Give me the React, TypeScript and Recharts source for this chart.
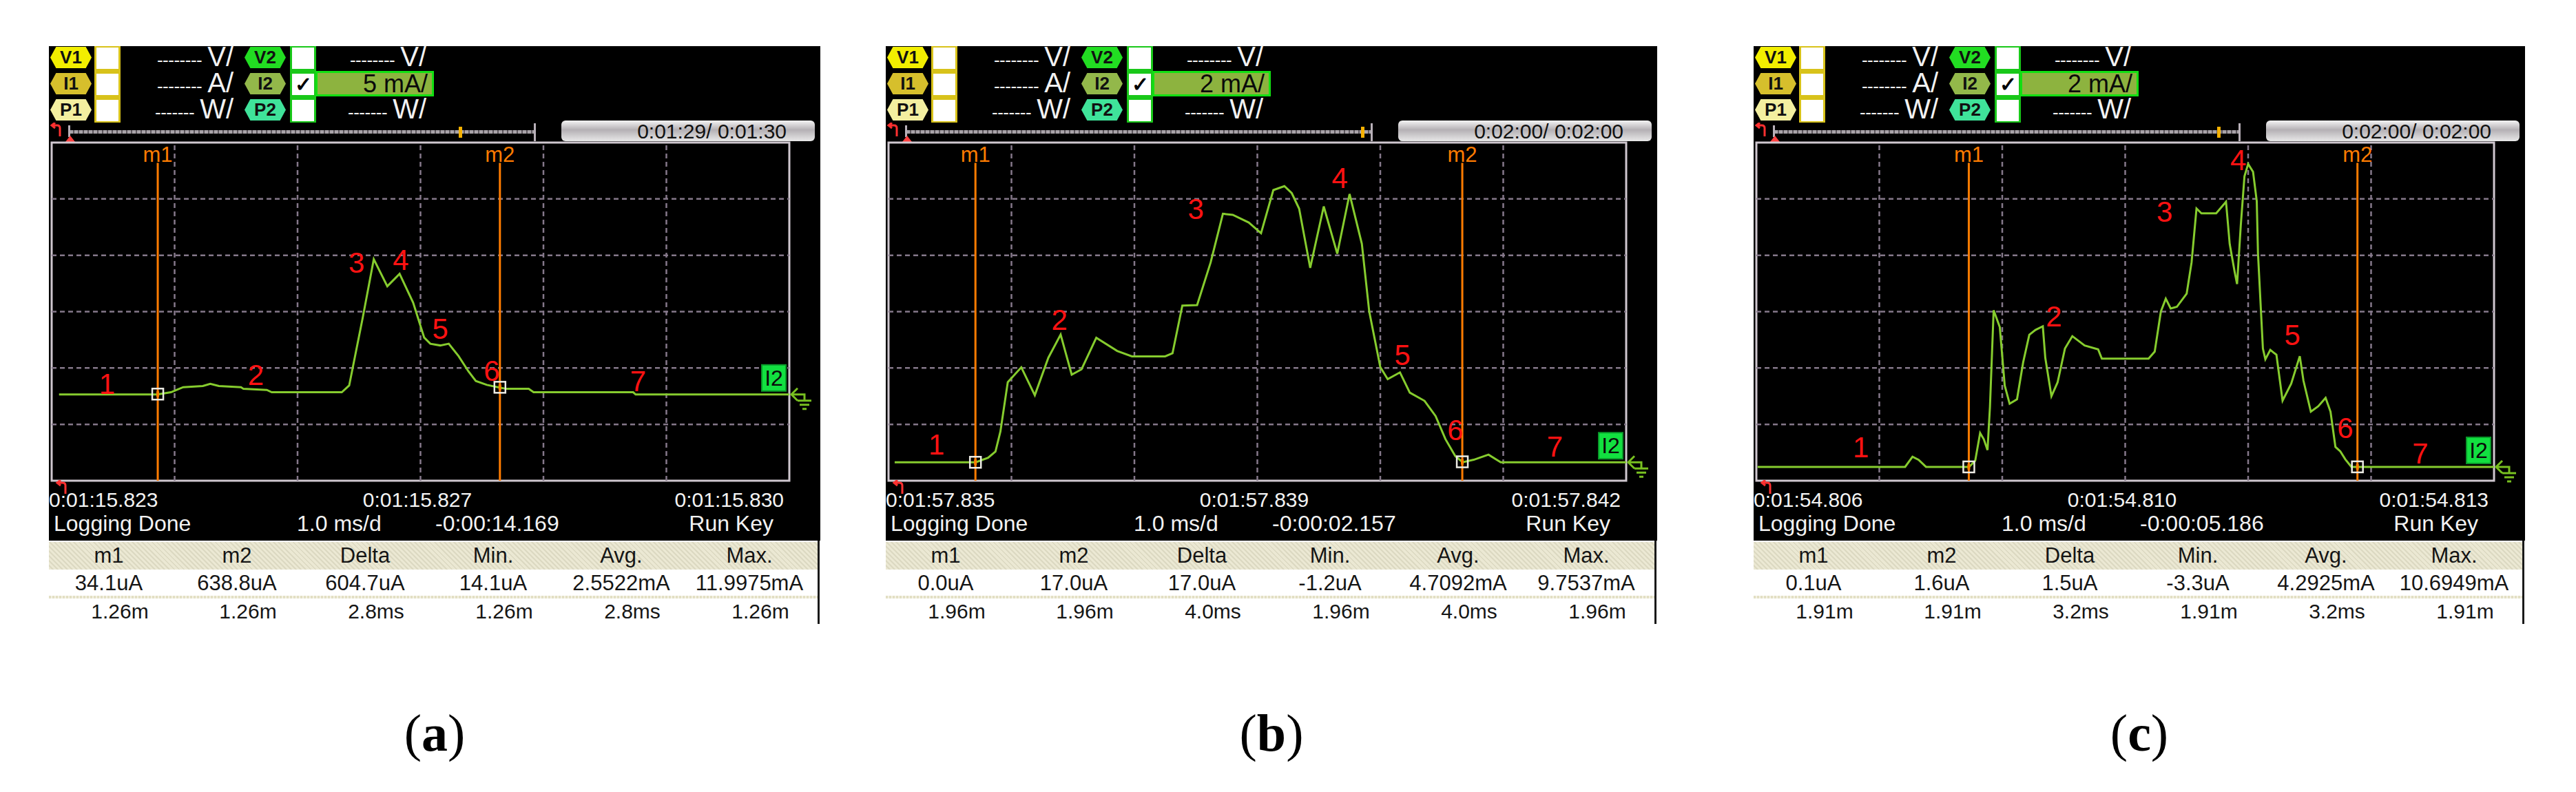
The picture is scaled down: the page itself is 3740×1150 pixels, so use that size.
import React from 'react';
import { LineChart, Line, XAxis, YAxis, ReferenceLine, ReferenceDot, ReferenceArea } from 'recharts';

// ---------- Panel (a) : 5 mA/div ----------
const timeA = [0.06, 0.86, 0.97, 1.07, 1.23, 1.29, 1.36, 1.54, 1.56, 1.75, 1.79, 2.36, 2.42, 2.53, 2.62, 2.73, 2.83, 2.94, 3.03, 3.08, 3.16, 3.23, 3.31, 3.39, 3.45, 3.54, 3.65, 3.7, 3.88, 3.92, 4.73, 4.75, 6.0];
const currentA = [0, 0, 0.2, 0.65, 0.75, 0.95, 0.75, 0.65, 0.5, 0.4, 0.2, 0.2, 0.8, 6.8, 12.0, 9.6, 10.7, 8.15, 5.05, 4.5, 4.35, 4.5, 3.4, 2.05, 1.2, 0.85, 0.6, 0.5, 0.5, 0.2, 0.2, 0, 0];
const numXA = [0.45, 1.66, 2.48, 2.84, 3.16, 3.58, 4.77];
const numYA = [0.95, 1.75, 11.7, 11.95, 5.85, 2.15, 1.2];
const markersA = [0.863, 3.646];
const markerValsA = [0.0341, 0.6388];
const axisLabelsA = ['0:01:15.823', '0:01:15.827', '0:01:15.830'];
const tableValsA = ['34.1uA', '638.8uA', '604.7uA', '14.1uA', '2.5522mA', '11.9975mA'];
const tableTimesA = ['1.26m', '1.26m', '2.8ms', '1.26m', '2.8ms', '1.26m'];

// ---------- Panel (b) : 2 mA/div ----------
const timeB = [0.05, 0.71, 0.81, 0.87, 0.91, 0.97, 1.08, 1.19, 1.3, 1.4, 1.49, 1.57, 1.69, 1.86, 1.98, 2.25, 2.31, 2.39, 2.51, 2.62, 2.72, 2.8, 2.93, 3.03, 3.13, 3.22, 3.28, 3.34, 3.43, 3.54, 3.65, 3.75, 3.85, 3.91, 4.0, 4.06, 4.16, 4.24, 4.36, 4.45, 4.53, 4.61, 4.67, 4.76, 4.88, 4.98, 6.0];
const currentB = [0, 0, 0.16, 0.38, 1.09, 2.84, 3.37, 2.38, 3.71, 4.53, 3.11, 3.3, 4.42, 3.95, 3.76, 3.76, 3.87, 5.56, 5.58, 7.09, 8.82, 8.78, 8.51, 8.13, 9.66, 9.8, 9.55, 9.0, 6.9, 9.08, 7.4, 9.52, 7.75, 5.35, 3.38, 2.95, 3.19, 2.47, 2.18, 1.64, 0.82, 0.22, 0, 0.09, 0.27, 0, 0];
const numXB = [0.39, 1.39, 2.5, 3.67, 4.18, 4.61, 5.42];
const numYB = [0.65, 5.07, 9.0, 10.09, 3.82, 1.15, 0.57];
const markersB = [0.707, 4.667];
const markerValsB = [0, 0.017];
const axisLabelsB = ['0:01:57.835', '0:01:57.839', '0:01:57.842'];
const tableValsB = ['0.0uA', '17.0uA', '17.0uA', '-1.2uA', '4.7092mA', '9.7537mA'];
const tableTimesB = ['1.96m', '1.96m', '4.0ms', '1.96m', '4.0ms', '1.96m'];

// ---------- Panel (c) : 2 mA/div ----------
const timeC = [0.01, 1.21, 1.27, 1.32, 1.38, 1.73, 1.78, 1.82, 1.85, 1.88, 1.9, 1.93, 1.98, 2.02, 2.06, 2.12, 2.17, 2.22, 2.27, 2.33, 2.35, 2.4, 2.45, 2.51, 2.57, 2.67, 2.78, 2.81, 3.19, 3.24, 3.29, 3.33, 3.37, 3.42, 3.5, 3.54, 3.58, 3.62, 3.74, 3.82, 3.85, 3.89, 3.91, 3.94, 3.97, 4.0, 4.04, 4.07, 4.08, 4.12, 4.14, 4.18, 4.23, 4.28, 4.35, 4.42, 4.45, 4.51, 4.57, 4.63, 4.67, 4.71, 4.75, 4.79, 4.84, 4.89, 6.0];
const currentC = [0, 0, 0.36, 0.25, 0, 0, 0.22, 1.2, 0.98, 0.6, 2.13, 5.56, 4.96, 2.89, 2.24, 2.4, 3.71, 4.69, 4.86, 4.99, 3.87, 2.51, 3.0, 4.2, 4.64, 4.31, 4.17, 3.84, 3.84, 4.09, 5.51, 5.97, 5.62, 5.68, 6.15, 7.26, 9.17, 9.0, 9.0, 9.41, 7.91, 6.93, 6.49, 8.56, 10.31, 10.75, 10.47, 9.43, 7.58, 4.2, 3.82, 4.15, 3.98, 2.35, 2.95, 3.93, 3.06, 1.96, 2.15, 2.45, 1.96, 0.71, 0.55, 0.27, 0, 0, 0];
const numXC = [0.85, 2.42, 3.32, 3.92, 4.36, 4.79, 5.4];
const numYC = [0.71, 5.35, 9.06, 10.9, 4.69, 1.39, 0.49];
const markersC = [1.728, 4.889];
const markerValsC = [0.0001, 0.0016];
const axisLabelsC = ['0:01:54.806', '0:01:54.810', '0:01:54.813'];
const tableValsC = ['0.1uA', '1.6uA', '1.5uA', '-3.3uA', '4.2925mA', '10.6949mA'];
const tableTimesC = ['1.91m', '1.91m', '3.2ms', '1.91m', '3.2ms', '1.91m'];

// ---------- shared labels ----------
const tableHeaders = ['m1', 'm2', 'Delta', 'Min.', 'Avg.', 'Max.'];
const numberNames = ['1', '2', '3', '4', '5', '6', '7'];
const markerNames = ['m1', 'm2'];
const scaleLabels = ['5 mA/', '2 mA/', '2 mA/'];
const perDivs = [5, 2, 2];
const zeroDivs = [1.53, 0.327, 0.245];
const timeBoxes = ['0:01:29/ 0:01:30', '0:02:00/ 0:02:00', '0:02:00/ 0:02:00'];
const offsets = ['-0:00:14.169', '-0:00:02.157', '-0:00:05.186'];
const progress = [0.837, 0.978, 0.953];
const captions = ['a', 'b', 'c'];
const panelLefts = [71, 1286, 2546];
const timeDivs = [0, 1, 2, 3, 4, 5, 6];

const FONT = '"Liberation Sans", Arial, Helvetica, sans-serif';
const GREEN = '#86cc2e';
const ORANGE = '#ff7c00';
const RED = '#ff1212';
const GRID = '#85788a';
const FRAME = '#cfc7cf';

const series = [
  { t: timeA, i: currentA, nx: numXA, ny: numYA, m: markersA, mv: markerValsA, ax: axisLabelsA, tv: tableValsA, tt: tableTimesA },
  { t: timeB, i: currentB, nx: numXB, ny: numYB, m: markersB, mv: markerValsB, ax: axisLabelsB, tv: tableValsB, tt: tableTimesB },
  { t: timeC, i: currentC, nx: numXC, ny: numYC, m: markersC, mv: markerValsC, ax: axisLabelsC, tv: tableValsC, tt: tableTimesC },
];

const hexClip = 'polygon(14% 0, 86% 0, 100% 50%, 86% 100%, 14% 100%, 0 50%)';

function Badge({ x, y, label, bg }: any) {
  return (
    <div style={{ position: 'absolute', left: x, top: y, width: 60, height: 31, background: bg, clipPath: hexClip,
      display: 'flex', alignItems: 'center', justifyContent: 'center', font: `bold 26px ${FONT}`, color: '#111' }}>{label}</div>
  );
}

function DashText({ right, y, unit, dashes }: any) {
  return (
    <div style={{ position: 'absolute', left: right - 150, width: 150, top: y - 6, height: 40, display: 'flex', justifyContent: 'flex-end',
      alignItems: 'baseline', color: '#f2f2f2', fontFamily: FONT, lineHeight: '40px' }}>
      <span style={{ fontSize: 26, letterSpacing: -0.5 }}>{dashes}</span>
      <span style={{ fontSize: 40, marginLeft: 8 }}>{unit}</span>
    </div>
  );
}

function RedHook({ x, y }: any) {
  return (
    <svg style={{ position: 'absolute', left: x, top: y }} width={24} height={22}>
      <path d="M16 20 L16 8 Q16 4 12 4 L5 4 M9 0 L4 4 L9 8" stroke="#ff3030" strokeWidth={3} fill="none" />
    </svg>
  );
}

function Panel({ idx }: any) {
  const s = series[idx];
  const L = panelLefts[idx];
  const perDiv = perDivs[idx];
  const zeroDiv = zeroDivs[idx];
  const dom: [number, number] = [-zeroDiv * perDiv, (6 - zeroDiv) * perDiv];
  const gridY = [1, 2, 3, 4, 5].map((k) => dom[0] + k * perDiv);
  const gridX = timeDivs.slice(1, 6);
  const data = s.t.map((t: number, k: number) => ({ t, i: s.i[k] }));
  const rows = [68, 106, 144];
  const colW = 1116 / 6;

  return (
    <div style={{ position: 'absolute', left: L, top: 0, width: 1120, height: 1150 }}>
      {/* black screen */}
      <div style={{ position: 'absolute', left: 0, top: 67, width: 1120, height: 718, background: '#000' }} />

      {/* channel header */}
      <Badge x={2} y={rows[0]} label="V1" bg="#f2ee00" />
      <Badge x={2} y={rows[1]} label="I1" bg="#d6bf2c" />
      <Badge x={2} y={rows[2]} label="P1" bg="#f3efa0" />
      <div style={{ position: 'absolute', left: 66, top: 67, width: 38, height: 111, background: '#d8c21a' }} />
      {rows.map((r) => (
        <div key={'w1' + r} style={{ position: 'absolute', left: 69, top: r + 1, width: 32, height: 31, background: '#fff' }} />
      ))}
      <DashText right={268} y={rows[0]} dashes="--------" unit="V/" />
      <DashText right={268} y={rows[1]} dashes="--------" unit="A/" />
      <DashText right={268} y={rows[2]} dashes="-------" unit="W/" />

      <Badge x={284} y={rows[0]} label="V2" bg="#22dd22" />
      <Badge x={284} y={rows[1]} label="I2" bg="#93b84a" />
      <Badge x={284} y={rows[2]} label="P2" bg="#3fe39a" />
      <div style={{ position: 'absolute', left: 350, top: 67, width: 38, height: 111, background: '#19c819' }} />
      {rows.map((r, k) => (
        <div key={'w2' + r} style={{ position: 'absolute', left: 353, top: r + 1, width: 32, height: 31, background: '#fff',
          color: '#000', font: `bold 30px ${FONT}`, lineHeight: '31px', textAlign: 'center' }}>{k === 1 ? '✓' : ''}</div>
      ))}
      <DashText right={548} y={rows[0]} dashes="--------" unit="V/" />
      <div style={{ position: 'absolute', left: 387, top: 103, width: 160, height: 31, background: '#8db33f', border: '3px solid #12e012',
        color: '#0a0a0a', font: `36px ${FONT}`, lineHeight: '32px', textAlign: 'right', paddingRight: 6, boxSizing: 'content-box' }}>{scaleLabels[idx]}</div>
      <DashText right={548} y={rows[2]} dashes="-------" unit="W/" />

      {/* timeline */}
      <RedHook x={0} y={178} />
      <div style={{ position: 'absolute', left: 30, top: 189, width: 676, height: 5,
        background: 'repeating-linear-gradient(90deg, #a8a2a8 0 5px, #5e585e 5px 7px)' }} />
      <div style={{ position: 'absolute', left: 28, top: 182, width: 3, height: 17, background: '#b8b0b8' }} />
      <div style={{ position: 'absolute', left: 704, top: 179, width: 3, height: 26, background: '#b8b0b8' }} />
      <div style={{ position: 'absolute', left: 24, top: 197, width: 0, height: 0, borderLeft: '7px solid transparent',
        borderRight: '7px solid transparent', borderBottom: '9px solid #ff4040' }} />
      <div style={{ position: 'absolute', left: 29 + progress[idx] * 676, top: 184, width: 5, height: 16, background: '#f5b000' }} />
      <div style={{ position: 'absolute', left: 744, top: 175, width: 368, height: 30, borderRadius: 6,
        background: 'linear-gradient(180deg, #f4f4f4 0%, #b4b0b4 45%, #e8e8e8 100%)', color: '#111',
        font: `30px ${FONT}`, lineHeight: '31px', textAlign: 'right', paddingRight: 41, boxSizing: 'border-box' }}>{timeBoxes[idx]}</div>

      {/* plot */}
      <div style={{ position: 'absolute', left: 0, top: 203 }}>
        <LineChart width={1120} height={499} data={data} margin={{ top: 4, right: 45, bottom: 4, left: 4 }}>
          <XAxis dataKey="t" type="number" domain={[0, 6]} hide allowDataOverflow />
          <YAxis type="number" domain={dom} hide allowDataOverflow />
          {gridX.map((v) => (
            <ReferenceLine key={'gx' + v} x={v} stroke={GRID} strokeWidth={2.5} strokeDasharray="7 5" />
          ))}
          {gridY.map((v) => (
            <ReferenceLine key={'gy' + v} y={v} stroke={GRID} strokeWidth={2.5} strokeDasharray="7 5" />
          ))}
          <ReferenceArea x1={0} x2={6} y1={dom[0]} y2={dom[1]} fill="none" fillOpacity={0} stroke={FRAME} strokeWidth={3} />
          {s.m.map((mx: number, k: number) => (
            <ReferenceLine key={'mk' + k} segment={[{ x: mx, y: dom[1] - 0.36 * perDiv }, { x: mx, y: dom[0] }]} stroke={ORANGE} strokeWidth={3} />
          ))}
          {s.m.map((mx: number, k: number) => (
            <ReferenceDot key={'ml' + k} x={mx} y={dom[1]} r={0}
              shape={(p: any) => (
                <text x={p.cx} y={p.cy + 28} textAnchor="middle" fill={ORANGE} fontFamily={FONT} fontSize={31}>{markerNames[k]}</text>
              )} />
          ))}
          <Line type="linear" dataKey="i" stroke={GREEN} strokeWidth={3} dot={false} activeDot={false} isAnimationActive={false} />
          {s.m.map((mx: number, k: number) => (
            <ReferenceDot key={'ms' + k} x={mx} y={s.mv[k]} r={0}
              shape={(p: any) => (
                <g>
                  <rect x={p.cx - 8} y={p.cy - 8} width={16} height={16} fill="none" stroke="#ecebe4" strokeWidth={2.5} />
                  <rect x={p.cx - 2} y={p.cy - 4} width={4} height={8} fill={ORANGE} />
                </g>
              )} />
          ))}
          {s.nx.map((nx: number, k: number) => (
            <ReferenceDot key={'n' + k} x={nx} y={s.ny[k]} r={0}
              shape={(p: any) => (
                <text x={p.cx} y={p.cy + 15} textAnchor="middle" fill={RED} fontFamily={FONT} fontSize={42}>{numberNames[k]}</text>
              )} />
          ))}
          <ReferenceDot x={6} y={0} r={0}
            shape={(p: any) => (
              <g>
                <rect x={p.cx - 40} y={p.cy - 43} width={35} height={38} fill="#12e040" stroke="#0a9a2a" strokeWidth={2} />
                <text x={p.cx - 22.5} y={p.cy - 13} textAnchor="middle" fill="#0a0a0a" fontFamily={FONT} fontSize={32}>I2</text>
                <path d={`M ${p.cx + 12} ${p.cy - 9} L ${p.cx + 3} ${p.cy} L ${p.cx + 12} ${p.cy + 9}`} stroke="#78c020" strokeWidth={3} fill="none" />
                <path d={`M ${p.cx + 3} ${p.cy} L ${p.cx + 22} ${p.cy} L ${p.cx + 22} ${p.cy + 8}`} stroke="#78c020" strokeWidth={3} fill="none" />
                <path d={`M ${p.cx + 12} ${p.cy + 9} L ${p.cx + 32} ${p.cy + 9} M ${p.cx + 15} ${p.cy + 15} L ${p.cx + 29} ${p.cy + 15} M ${p.cx + 19} ${p.cy + 21} L ${p.cx + 25} ${p.cy + 21}`}
                  stroke="#78c020" strokeWidth={3} fill="none" />
              </g>
            )} />
        </LineChart>
      </div>
      <RedHook x={8} y={697} />

      {/* bottom status lines */}
      <div style={{ position: 'absolute', left: 0, top: 709, font: `30px ${FONT}`, lineHeight: '34px', color: '#f2f2f2' }}>{s.ax[0]}</div>
      <div style={{ position: 'absolute', left: 385, width: 300, top: 709, textAlign: 'center', font: `30px ${FONT}`, lineHeight: '34px', color: '#f2f2f2' }}>{s.ax[1]}</div>
      <div style={{ position: 'absolute', left: 767, width: 300, top: 709, textAlign: 'right', font: `30px ${FONT}`, lineHeight: '34px', color: '#f2f2f2' }}>{s.ax[2]}</div>
      <div style={{ position: 'absolute', left: 7, top: 742, font: `32px ${FONT}`, lineHeight: '36px', color: '#f2f2f2' }}>Logging Done</div>
      <div style={{ position: 'absolute', left: 360, top: 742, font: `32px ${FONT}`, lineHeight: '36px', color: '#f2f2f2' }}>1.0 ms/d</div>
      <div style={{ position: 'absolute', left: 561, top: 742, font: `32px ${FONT}`, lineHeight: '36px', color: '#f2f2f2' }}>{offsets[idx]}</div>
      <div style={{ position: 'absolute', left: 752, width: 300, top: 742, textAlign: 'right', font: `32px ${FONT}`, lineHeight: '36px', color: '#f2f2f2' }}>Run Key</div>

      {/* measurement table */}
      <div style={{ position: 'absolute', left: 0, top: 785, width: 1116, height: 121, background: '#fff', borderRight: '3px solid #1a1a1a' }} />
      <div style={{ position: 'absolute', left: 0, top: 787, width: 1116, height: 40,
        background: 'repeating-linear-gradient(45deg, #ebe8d3 0 3px, #dcd9c2 3px 5px)' }} />
      <div style={{ position: 'absolute', left: 0, top: 865, width: 1116, height: 4,
        background: 'repeating-linear-gradient(90deg, #e2dfc4 0 3px, #f4f2e4 3px 5px)' }} />
      {tableHeaders.map((h, k) => (
        <div key={'h' + k} style={{ position: 'absolute', left: k * colW - 6, width: colW, top: 788, textAlign: 'center',
          font: `31px ${FONT}`, lineHeight: '38px', color: '#151515' }}>{h}</div>
      ))}
      {s.tv.map((v: string, k: number) => (
        <div key={'v' + k} style={{ position: 'absolute', left: k * colW - 6, width: colW, top: 829, textAlign: 'center',
          font: `31px ${FONT}`, lineHeight: '36px', color: '#151515' }}>{v}</div>
      ))}
      {s.tt.map((v: string, k: number) => (
        <div key={'tt' + k} style={{ position: 'absolute', left: k * colW + 10, width: colW, top: 870, textAlign: 'center',
          font: `30px ${FONT}`, lineHeight: '36px', color: '#151515' }}>{v}</div>
      ))}

      {/* caption */}
      <div style={{ position: 'absolute', left: 360, width: 400, top: 1026, textAlign: 'center',
        fontFamily: '"Liberation Serif", "Times New Roman", serif', fontSize: 76, lineHeight: '76px', color: '#000' }}>
        (<b>{captions[idx]}</b>)
      </div>
    </div>
  );
}

export default function App() {
  return (
    <div style={{ position: 'absolute', left: 0, top: 0, width: 3740, height: 1150, background: '#fff', overflow: 'hidden' }}>
      <Panel idx={0} />
      <Panel idx={1} />
      <Panel idx={2} />
    </div>
  );
}
